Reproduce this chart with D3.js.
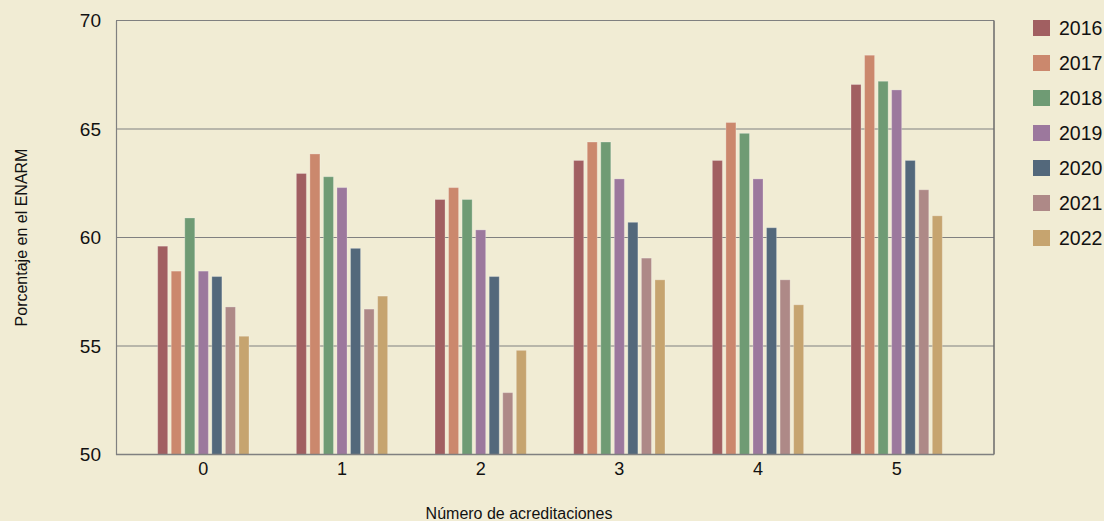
<!DOCTYPE html>
<html>
<head>
<meta charset="utf-8">
<script src="https://cdn.jsdelivr.net/npm/d3@7"></script>
<style>
  body { margin: 0; background: #f1ecd4; }
  svg { display: block; font-family: "Liberation Sans", Arial, sans-serif; }
</style>
</head>
<body>
<svg id="chart"></svg>
<script>
// categories and series
const categories = ["0", "1", "2", "3", "4", "5"]
const years = ["2016", "2017", "2018", "2019", "2020", "2021", "2022"]
const yTicks = [50, 55, 60, 65, 70]

const v2016 = [59.6, 62.95, 61.75, 63.55, 63.55, 67.05]
const v2017 = [58.45, 63.85, 62.3, 64.4, 65.3, 68.4]
const v2018 = [60.9, 62.8, 61.75, 64.4, 64.8, 67.2]
const v2019 = [58.45, 62.3, 60.35, 62.7, 62.7, 66.8]
const v2020 = [58.2, 59.5, 58.2, 60.7, 60.45, 63.55]
const v2021 = [56.8, 56.7, 52.85, 59.05, 58.05, 62.2]
const v2022 = [55.45, 57.3, 54.8, 58.05, 56.9, 61.0]

const series = [v2016, v2017, v2018, v2019, v2020, v2021, v2022]
const colors = ["#a15f61", "#cb886d", "#6f9b74", "#9c789d", "#53687b", "#ae8987", "#c6a46f"]

const w = 1104
const h = 521
const plotLeft = 116, plotRight = 994, plotTop = 20.5, plotBottom = 454.5

const svg = d3.select("#chart").attr("width", w).attr("height", h)

svg.append("rect").attr("width", w).attr("height", h).attr("fill", "#f1ecd4")

// scales
const x0 = d3.scaleBand().domain(categories).range([134, 966])
const x1 = d3.scaleBand().domain(years).range([0, 91.3]).paddingInner(0.26).paddingOuter(0)
const y = d3.scaleLinear().domain([50, 70]).range([plotBottom, plotTop])

// grid lines
svg.append("g")
  .selectAll("line")
  .data(yTicks)
  .enter()
  .append("line")
  .attr("x1", plotLeft).attr("x2", plotRight)
  .attr("y1", d => y(d)).attr("y2", d => y(d))
  .attr("stroke", "#808080")
  .attr("stroke-width", 1.2)

// right frame
svg.append("line")
  .attr("x1", plotRight).attr("x2", plotRight)
  .attr("y1", plotTop).attr("y2", plotBottom)
  .attr("stroke", "#6a6a6a").attr("stroke-width", 1.5)

// bars
const groups = svg.append("g")
  .selectAll("g")
  .data(categories)
  .enter()
  .append("g")
  .attr("transform", c => `translate(${x0(c) + x0.bandwidth() / 2 - 91.3 / 2}, 0)`)

groups.selectAll("rect")
  .data((c, i) => years.map((yr, j) => ({ yr, j, v: series[j][i] })))
  .enter()
  .append("rect")
  .attr("x", d => x1(d.yr))
  .attr("width", x1.bandwidth())
  .attr("y", d => y(d.v))
  .attr("height", d => y(50) - y(d.v))
  .attr("fill", d => colors[d.j])
  .attr("stroke", "#ffffff")
  .attr("stroke-opacity", 0.25)
  .attr("stroke-width", 1)

// axes
const axisLeft = d3.axisLeft(y).tickValues(yTicks).tickSize(0).tickPadding(15)
const gy = svg.append("g")
  .attr("transform", `translate(${plotLeft}, 0)`)
  .call(axisLeft)
gy.select(".domain").attr("stroke", "#808080").attr("stroke-width", 1.2)
gy.selectAll("text").attr("font-size", 19).attr("fill", "#111").attr("font-family", "Liberation Sans, Arial, sans-serif")

const axisBottom = d3.axisBottom(x0).tickSize(0).tickPadding(8)
const gx = svg.append("g")
  .attr("transform", `translate(0, ${plotBottom})`)
  .call(axisBottom)
gx.select(".domain").remove()
gx.selectAll("text").attr("font-size", 18).attr("fill", "#111").attr("font-family", "Liberation Sans, Arial, sans-serif")

svg.append("line")
  .attr("x1", plotLeft).attr("x2", plotRight)
  .attr("y1", plotBottom).attr("y2", plotBottom)
  .attr("stroke", "#808080").attr("stroke-width", 1.5)

// axis titles
svg.append("text")
  .attr("x", 519).attr("y", 519)
  .attr("text-anchor", "middle")
  .attr("font-size", 16).attr("fill", "#111")
  .text("Número de acreditaciones")

svg.append("text")
  .attr("transform", `translate(27, ${(plotTop + plotBottom) / 2}) rotate(-90)`)
  .attr("text-anchor", "middle")
  .attr("font-size", 16).attr("fill", "#111")
  .text("Porcentaje en el ENARM")

// legend
const legend = svg.append("g")
  .selectAll("g")
  .data(years)
  .enter()
  .append("g")
  .attr("transform", (d, i) => `translate(1033, ${20 + i * 35})`)

legend.append("rect")
  .attr("width", 17).attr("height", 16)
  .attr("fill", (d, i) => colors[i])

legend.append("text")
  .attr("x", 26).attr("y", 8)
  .attr("dy", "0.36em")
  .attr("font-size", 19.5).attr("fill", "#111")
  .text(d => d)
</script>
</body>
</html>
